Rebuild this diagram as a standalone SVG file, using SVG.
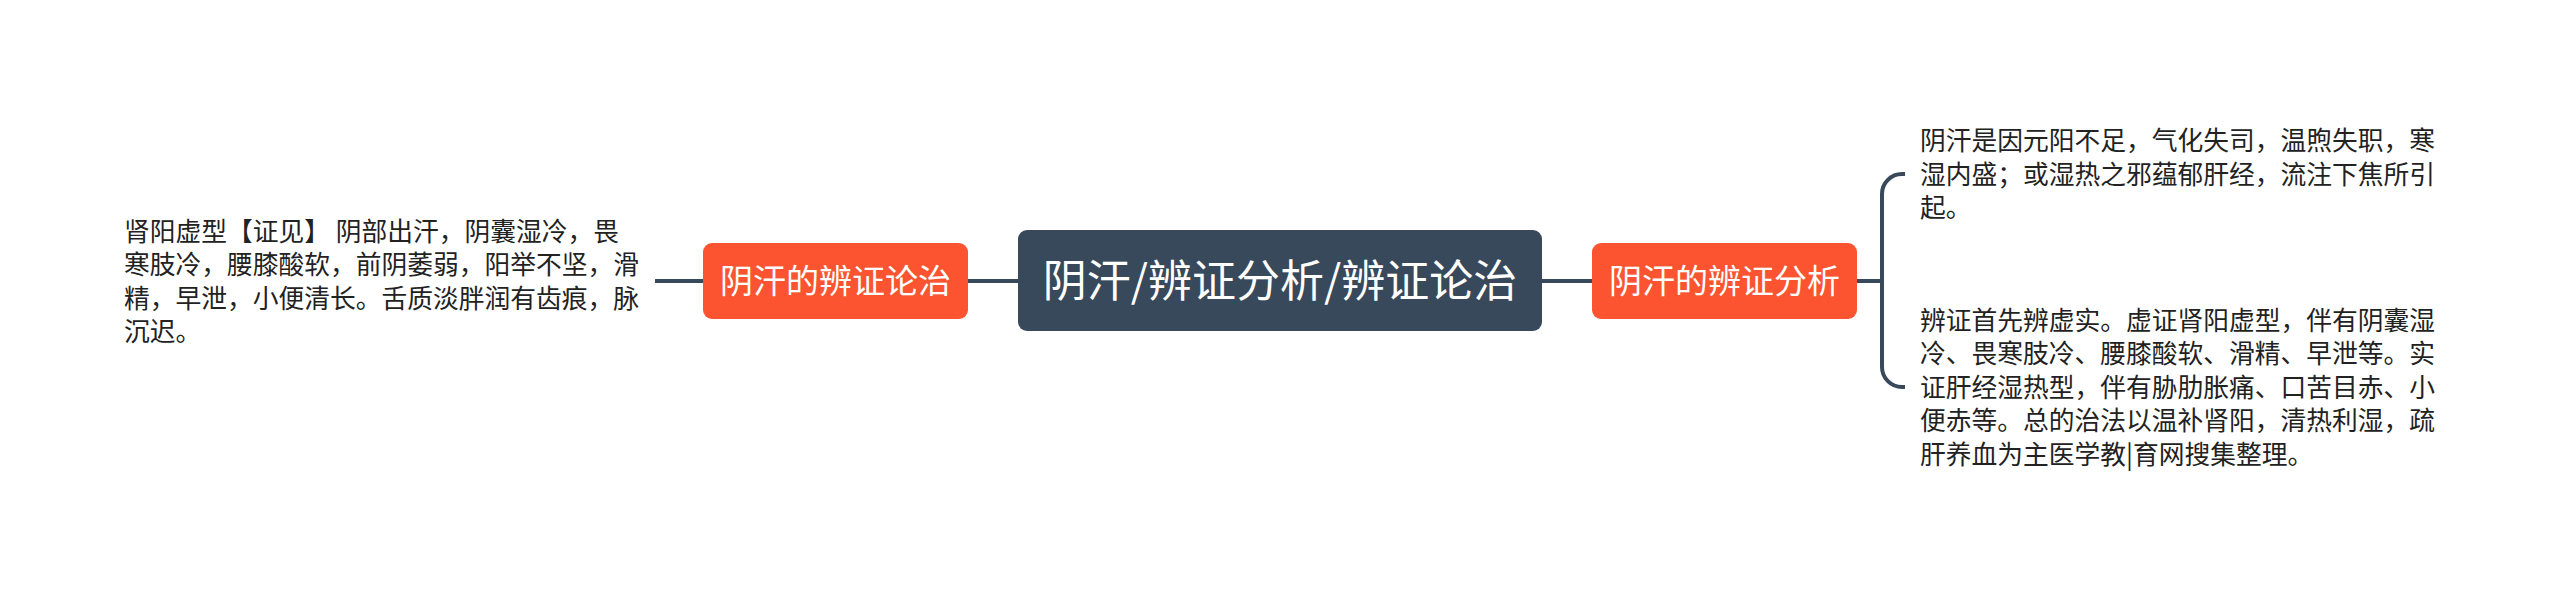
<svg xmlns="http://www.w3.org/2000/svg" width="2560" height="595" viewBox="0 0 2560 595">
<style>
.txt{font-family:"Noto Sans CJK SC","Noto Sans",sans-serif;font-size:25.76px;fill:#222;white-space:pre}
.lbl{font-family:"Noto Sans CJK SC","Noto Sans",sans-serif;fill:#fff;text-anchor:middle}
.sub{fill:#fc5430}
.root{fill:#37495a}
.conn{fill:none;stroke:#37495a;stroke-width:4;stroke-linecap:butt}
</style>
<rect width="2560" height="595" fill="#fff"/>
<g id="connectors">
<line class="conn" x1="655" y1="281" x2="703" y2="281"/>
<line class="conn" x1="968" y1="281" x2="1018" y2="281"/>
<line class="conn" x1="1542" y1="281" x2="1592" y2="281"/>
<line class="conn" x1="1857" y1="281" x2="1882" y2="281"/>
<path class="conn" d="M1905,174 H1902 A20,20 0 0 0 1882,194 V367 A20,20 0 0 0 1902,387 H1905"/>
</g>
<g id="root">
<rect class="root" x="1018" y="230" width="524" height="101" rx="9"/>
<text class="lbl" x="1280" y="297" font-size="44">阴汗/辨证分析/辨证论治</text>
</g>
<g id="left-branch">
<rect class="sub" x="703" y="243" width="265" height="76" rx="9"/>
<text class="lbl" x="835.5" y="293" font-size="33">阴汗的辨证论治</text>
</g>
<g id="right-branch">
<rect class="sub" x="1592" y="243" width="265" height="76" rx="9"/>
<text class="lbl" x="1724.5" y="293" font-size="33">阴汗的辨证分析</text>
</g>
<g id="left-leaf">
<text class="txt" x="124" y="240.5">肾阳虚型【证见】 阴部出汗，阴囊湿冷，畏</text>
<text class="txt" x="124" y="274">寒肢冷，腰膝酸软，前阴萎弱，阳举不坚，滑</text>
<text class="txt" x="124" y="307.5">精，早泄，小便清长。舌质淡胖润有齿痕，脉</text>
<text class="txt" x="124" y="341">沉迟。</text>
</g>
<g id="right-leaf-1">
<text class="txt" x="1920" y="150">阴汗是因元阳不足，气化失司，温煦失职，寒</text>
<text class="txt" x="1920" y="183.5">湿内盛；或湿热之邪蕴郁肝经，流注下焦所引</text>
<text class="txt" x="1920" y="217">起。</text>
</g>
<g id="right-leaf-2">
<text class="txt" x="1920" y="329.5">辨证首先辨虚实。虚证肾阳虚型，伴有阴囊湿</text>
<text class="txt" x="1920" y="363">冷、畏寒肢冷、腰膝酸软、滑精、早泄等。实</text>
<text class="txt" x="1920" y="396.5">证肝经湿热型，伴有胁肋胀痛、口苦目赤、小</text>
<text class="txt" x="1920" y="430">便赤等。总的治法以温补肾阳，清热利湿，疏</text>
<text class="txt" x="1920" y="463.5">肝养血为主医学教|育网搜集整理。</text>
</g>
</svg>
